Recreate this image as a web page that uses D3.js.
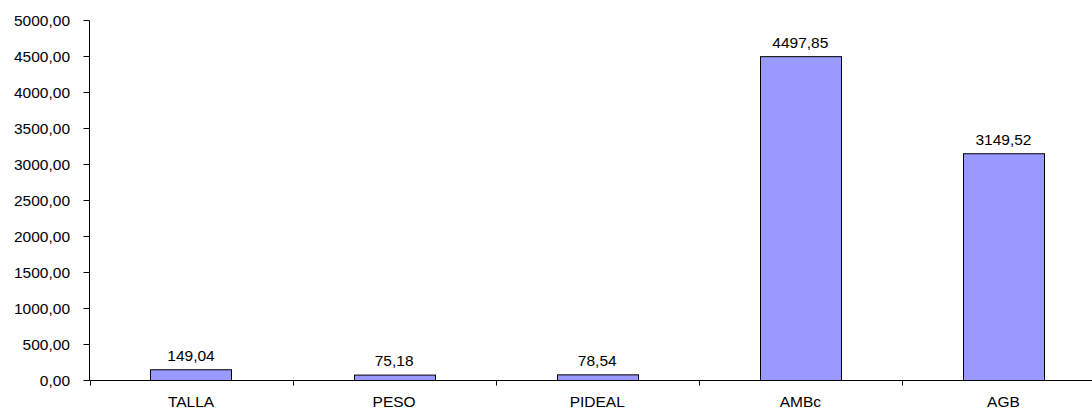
<!DOCTYPE html>
<html><head><meta charset="utf-8">
<script src="https://cdn.jsdelivr.net/npm/d3@7"></script>
<style>body{margin:0;background:#fff}svg{display:block}text{font-family:"Liberation Sans",Arial,sans-serif;font-size:15.5px;fill:#000}</style>
</head><body>
<script>
const categories = ["TALLA","PESO","PIDEAL","AMBc","AGB"];
const values = [149.04, 75.18, 78.54, 4497.85, 3149.52];
const yTicks = [0,500,1000,1500,2000,2500,3000,3500,4000,4500,5000];

const W=1092,H=411;
const svg=d3.select("body").append("svg").attr("width",W).attr("height",H);
const x=d3.scaleBand().domain(categories).range([89.5,1105]).paddingInner(0).paddingOuter(0);
const y=d3.scaleLinear().domain([0,5000]).range([380.5,20.5]);
const fmt=v=>d3.format(".2f")(v).replace(".",",");

// y axis
const ya=svg.append("g").attr("transform","translate(89.5,0)");
ya.append("line").attr("x1",0).attr("x2",0).attr("y1",y(5000)).attr("y2",y(0)).attr("stroke","#000");
ya.selectAll("line.t").data(yTicks).enter().append("line").attr("class","t")
  .attr("x1",-6).attr("x2",0).attr("y1",d=>y(d)).attr("y2",d=>y(d)).attr("stroke","#000");
ya.selectAll("text").data(yTicks).enter().append("text")
  .attr("x",-19.5).attr("y",d=>y(d)).attr("dy","0.35em").attr("text-anchor","end").text(fmt);

// x axis
const xa=svg.append("g");
xa.append("line").attr("x1",89.5).attr("x2",W).attr("y1",y(0)).attr("y2",y(0)).attr("stroke","#000");
const bounds=categories.map(c=>x(c)).concat([x.range()[1]]);
xa.selectAll("line.t").data(bounds).enter().append("line").attr("class","t")
  .attr("x1",d=>Math.round(d)+0.5).attr("x2",d=>Math.round(d)+0.5).attr("y1",y(0)).attr("y2",y(0)+5).attr("stroke","#000");
xa.selectAll("text").data(categories).enter().append("text")
  .attr("x",d=>x(d)+x.bandwidth()/2).attr("y",407).attr("text-anchor","middle").text(d=>d);

// bars
const bw=x.bandwidth()*0.4;
svg.selectAll("rect.bar").data(values).enter().append("rect").attr("class","bar")
  .attr("x",(d,i)=>Math.round(x(categories[i])+x.bandwidth()/2-bw/2)+0.5)
  .attr("width",Math.round(bw))
  .attr("y",d=>y(d)).attr("height",d=>y(0)-y(d))
  .attr("fill","#9999FF").attr("stroke","#000").attr("stroke-width",1);
svg.selectAll("text.lbl").data(values).enter().append("text").attr("class","lbl")
  .attr("x",(d,i)=>x(categories[i])+x.bandwidth()/2).attr("y",d=>y(d)-9)
  .attr("text-anchor","middle").text(fmt);
</script>
</body></html>
